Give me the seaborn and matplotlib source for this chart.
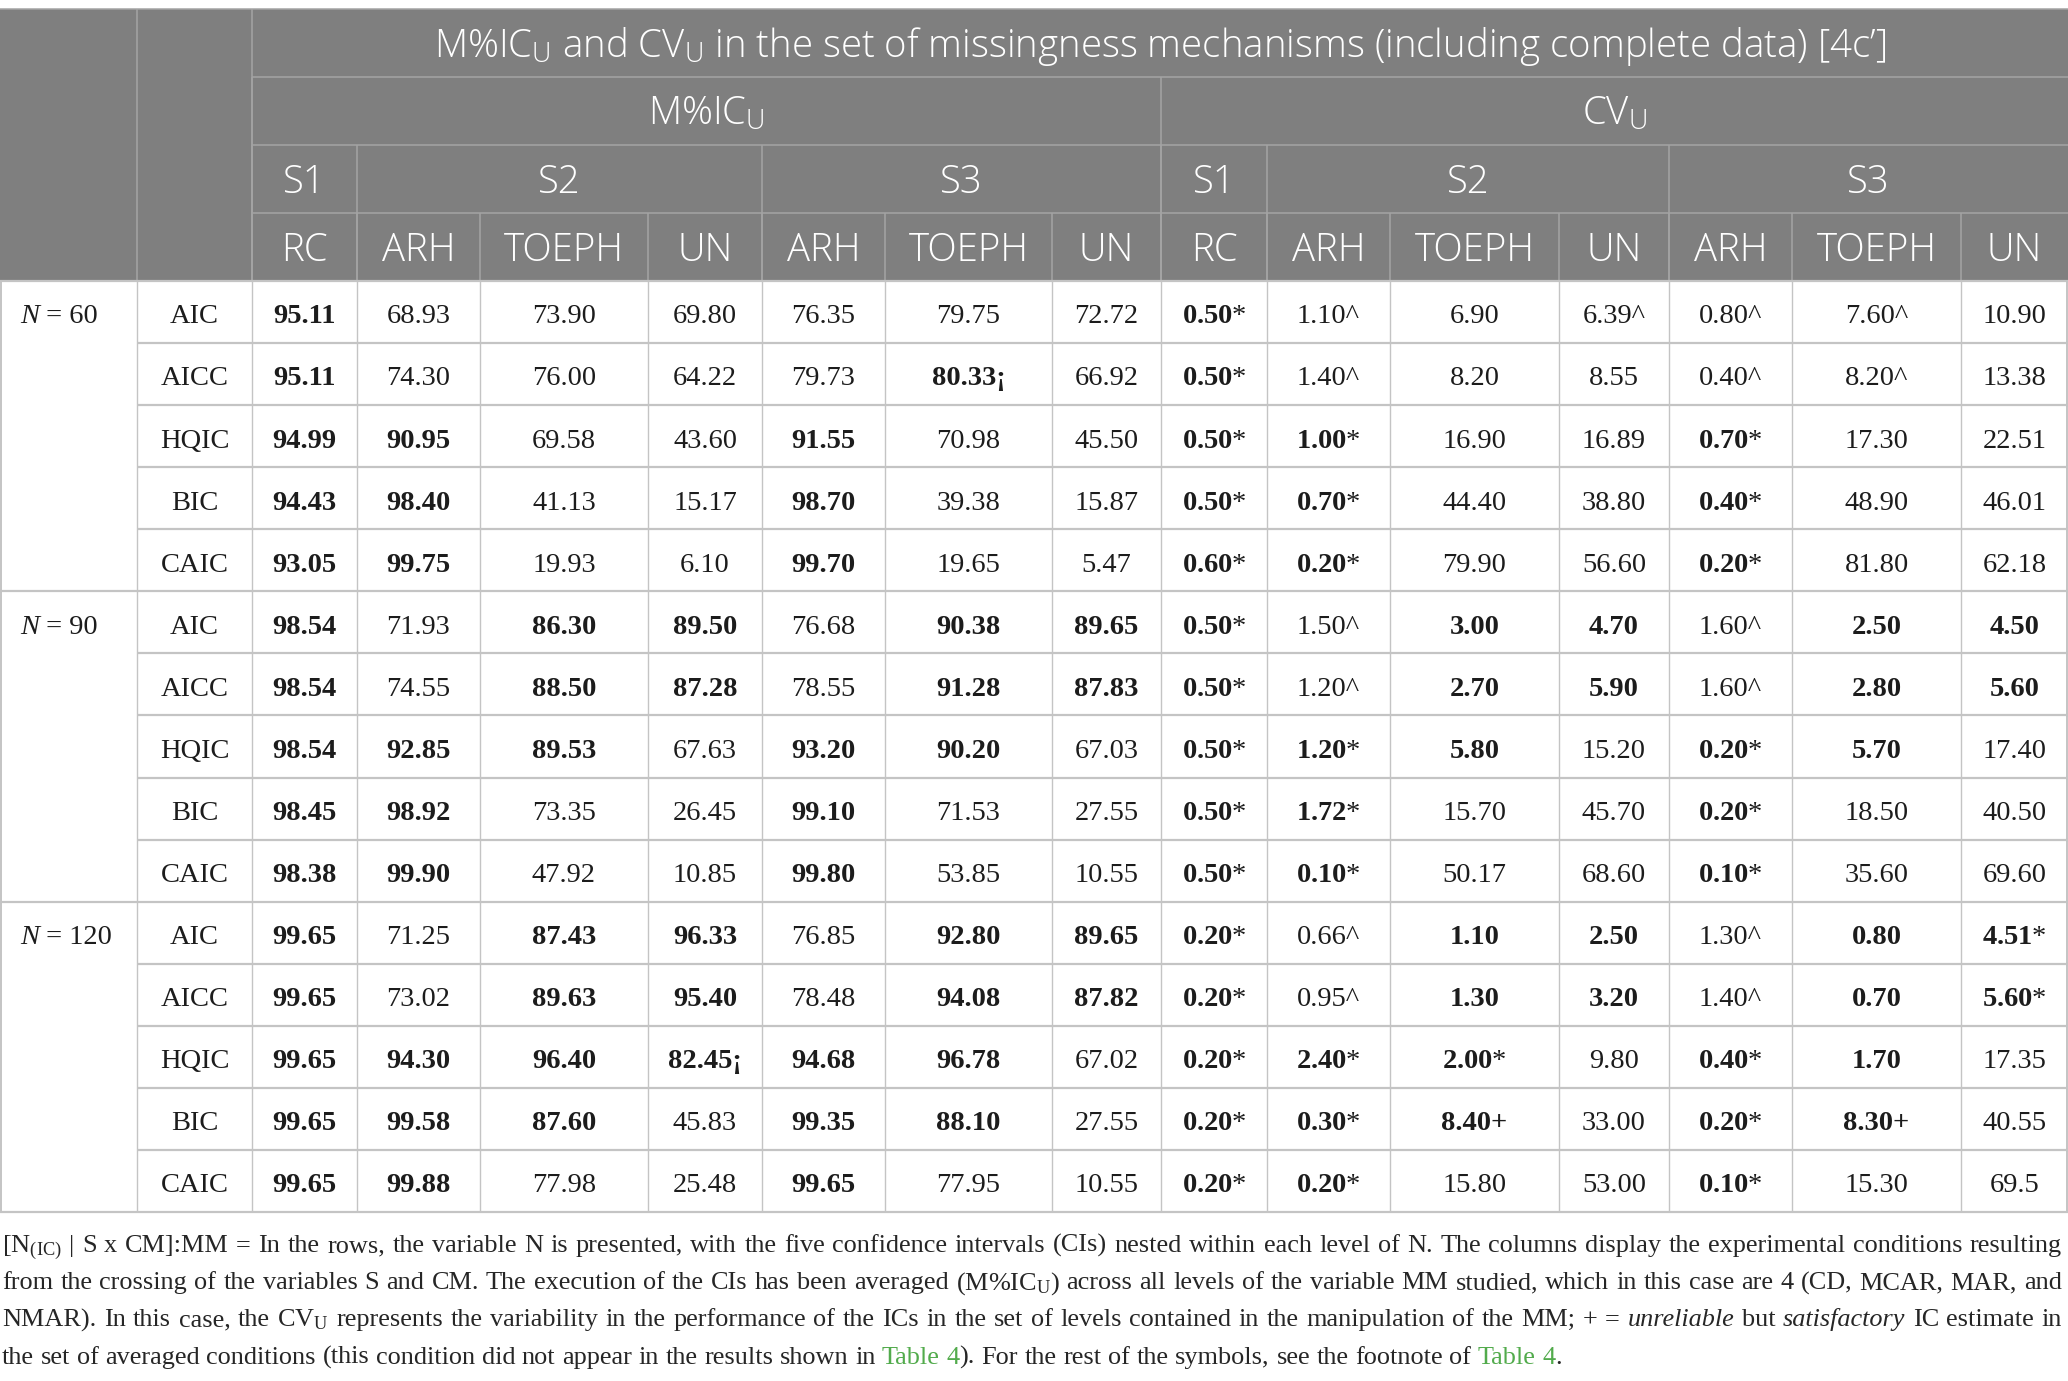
import matplotlib
matplotlib.use("Agg")
import matplotlib.pyplot as plt
import numpy as np
import pandas as pd
import seaborn as sns

# ---- table content ---------------------------------------------------------
SAMPLE_SIZES = ["60", "90", "120"]
IC_NAMES = ["AIC", "AICC", "HQIC", "BIC", "CAIC"]
TITLE = (r"M%IC$_\mathregular{U}$ and CV$_\mathregular{U}$ in the set of missingness "
         "mechanisms (including complete data) [4c\u2019]")
MEASURES = [r"M%IC$_\mathregular{U}$", r"CV$_\mathregular{U}$"]
STRUCTURES = ["S1", "S2", "S3"]
STRUCTURE_SPAN = [1, 3, 3]
COV_MODELS = ["RC", "ARH", "TOEPH", "UN", "ARH", "TOEPH", "UN"]

MIC_N60 = [
    ["95.11", "68.93", "73.90", "69.80", "76.35", "79.75", "72.72"],
    ["95.11", "74.30", "76.00", "64.22", "79.73", "80.33¡", "66.92"],
    ["94.99", "90.95", "69.58", "43.60", "91.55", "70.98", "45.50"],
    ["94.43", "98.40", "41.13", "15.17", "98.70", "39.38", "15.87"],
    ["93.05", "99.75", "19.93", "6.10", "99.70", "19.65", "5.47"],
]
CV_N60 = [
    ["0.50*", "1.10^", "6.90", "6.39^", "0.80^", "7.60^", "10.90"],
    ["0.50*", "1.40^", "8.20", "8.55", "0.40^", "8.20^", "13.38"],
    ["0.50*", "1.00*", "16.90", "16.89", "0.70*", "17.30", "22.51"],
    ["0.50*", "0.70*", "44.40", "38.80", "0.40*", "48.90", "46.01"],
    ["0.60*", "0.20*", "79.90", "56.60", "0.20*", "81.80", "62.18"],
]
MIC_N90 = [
    ["98.54", "71.93", "86.30", "89.50", "76.68", "90.38", "89.65"],
    ["98.54", "74.55", "88.50", "87.28", "78.55", "91.28", "87.83"],
    ["98.54", "92.85", "89.53", "67.63", "93.20", "90.20", "67.03"],
    ["98.45", "98.92", "73.35", "26.45", "99.10", "71.53", "27.55"],
    ["98.38", "99.90", "47.92", "10.85", "99.80", "53.85", "10.55"],
]
CV_N90 = [
    ["0.50*", "1.50^", "3.00", "4.70", "1.60^", "2.50", "4.50"],
    ["0.50*", "1.20^", "2.70", "5.90", "1.60^", "2.80", "5.60"],
    ["0.50*", "1.20*", "5.80", "15.20", "0.20*", "5.70", "17.40"],
    ["0.50*", "1.72*", "15.70", "45.70", "0.20*", "18.50", "40.50"],
    ["0.50*", "0.10*", "50.17", "68.60", "0.10*", "35.60", "69.60"],
]
MIC_N120 = [
    ["99.65", "71.25", "87.43", "96.33", "76.85", "92.80", "89.65"],
    ["99.65", "73.02", "89.63", "95.40", "78.48", "94.08", "87.82"],
    ["99.65", "94.30", "96.40", "82.45¡", "94.68", "96.78", "67.02"],
    ["99.65", "99.58", "87.60", "45.83", "99.35", "88.10", "27.55"],
    ["99.65", "99.88", "77.98", "25.48", "99.65", "77.95", "10.55"],
]
CV_N120 = [
    ["0.20*", "0.66^", "1.10", "2.50", "1.30^", "0.80", "4.51*"],
    ["0.20*", "0.95^", "1.30", "3.20", "1.40^", "0.70", "5.60*"],
    ["0.20*", "2.40*", "2.00*", "9.80", "0.40*", "1.70", "17.35"],
    ["0.20*", "0.30*", "8.40+", "33.00", "0.20*", "8.30+", "40.55"],
    ["0.20*", "0.20*", "15.80", "53.00", "0.10*", "15.30", "69.5"],
]
# 1 = printed in bold in the original table
BOLD_MIC_N60 = ["1000000", "1000010", "1100100", "1100100", "1100100"]
BOLD_CV_N60 = ["1000000", "1000000", "1100100", "1100100", "1100100"]
BOLD_MIC_N90 = ["1011011", "1011011", "1110110", "1100100", "1100100"]
BOLD_CV_N90 = ["1011011", "1011011", "1110110", "1100100", "1100100"]
BOLD_MIC_N120 = ["1011011", "1011011", "1111110", "1110110", "1100100"]
BOLD_CV_N120 = ["1011011", "1011011", "1110110", "1110110", "1100100"]

# footnote, one list of (text, style) per printed line
NOTE_LINES = [
    [(r"[N$_\mathregular{(IC)}$ | S x CM]:MM = In the rows, the variable N is presented, "
      "with the five confidence intervals (CIs) nested within each level of N. The columns "
      "display the experimental conditions resulting", "n")],
    [(r"from the crossing of the variables S and CM. The execution of the CIs has been "
      r"averaged (M%IC$_\mathregular{U}$) across all levels of the variable MM studied, which "
      "in this case are 4 (CD, MCAR, MAR, and", "n")],
    [(r"NMAR). In this case, the CV$_\mathregular{U}$ represents the variability in the "
      "performance of the ICs in the set of levels contained in the manipulation of the "
      "MM; + = ", "n"), ("unreliable", "i"), (" but ", "n"), ("satisfactory", "i"),
     (" IC estimate in", "n")],
    [("the set of averaged conditions (this condition did not appear in the results "
      "shown in ", "n"), ("Table 4", "g"), ("). For the rest of the symbols, see the "
      "footnote of ", "n"), ("Table 4", "g"), (".", "n")],
]

# ---- layout and style --------------------------------------------------------
FIG_W, FIG_H, DPI = 2068, 1381, 100
COL_W = [137, 115, 105, 123, 168, 114, 123, 167, 109, 106, 123, 169, 110, 123, 169, 107]
TOP = 9
HEAD_H = 68
ROW_H = 62.07
NOTE_GAP = 40
NOTE_LEAD = 37.2

HEAD_BG = "#7f7f7f"
HEAD_LINE = "#a4a4a4"
GRID = "#c4c4c4"
TEXT = "#1c1c1c"
NOTE = "#262626"
LINK = "#52ab4c"

BODY_FS = 20.5
NOTE_FS = 18.0
HEAD_FONT = "Open Sans"
SERIF = "Liberation Serif"


def main():
    # assemble the body of the table
    rows = []
    groups = zip(SAMPLE_SIZES,
                 [MIC_N60, MIC_N90, MIC_N120], [CV_N60, CV_N90, CV_N120],
                 [BOLD_MIC_N60, BOLD_MIC_N90, BOLD_MIC_N120],
                 [BOLD_CV_N60, BOLD_CV_N90, BOLD_CV_N120])
    for n, mic, cv, bmic, bcv in groups:
        for ic, r_mic, r_cv, b_mic, b_cv in zip(IC_NAMES, mic, cv, bmic, bcv):
            rows.append({"N": n, "IC": ic, "cells": r_mic + r_cv,
                         "bold": [c == "1" for c in b_mic + b_cv]})
    table = pd.DataFrame(rows)

    sns.set_theme(style="white")
    plt.rcParams.update({
        "font.family": [SERIF, "DejaVu Serif"],
        "mathtext.fontset": "custom",
        "mathtext.rm": SERIF,
        "mathtext.it": SERIF + ":italic",
        "mathtext.bf": SERIF + ":bold",
    })

    width = sum(COL_W)
    x_edges = np.concatenate([[0], np.cumsum(COL_W)])
    head_edges = TOP + HEAD_H * np.arange(5)
    body_top = head_edges[-1]
    row_edges = body_top + ROW_H * np.arange(len(table) + 1)

    fig = plt.figure(figsize=(FIG_W / DPI, FIG_H / DPI), dpi=DPI)
    ax = fig.add_axes([0, 0, 1, 1])
    ax.set_xlim(0, width)
    ax.set_ylim(FIG_H, 0)
    ax.set_axis_off()
    renderer = fig.canvas.get_renderer()
    px = width / fig.bbox.width

    def put(x, yc, s, size, cap, ha="center", **kw):
        # place text so that its capitals are centred on yc
        return ax.text(x, yc + cap * size * DPI / 72, s, size=size, ha=ha,
                       va="baseline", **kw)

    def text_w(s, **kw):
        t = ax.text(0, 0, s, **kw)
        w = t.get_window_extent(renderer).width * px
        t.remove()
        return w

    # ---- header -------------------------------------------------------------
    ax.add_patch(plt.Rectangle((0, TOP), width, body_top - TOP, color=HEAD_BG, lw=0))
    head_kw = dict(family=HEAD_FONT, color="white", weight="light")
    title_fs = 24 * (x_edges[-1] - x_edges[2]) * 0.80 / text_w(TITLE, size=24, **head_kw)
    head_fs = title_fs
    hlw = 1.1
    ax.hlines(TOP, 0, width, color=HEAD_LINE, lw=hlw)
    ax.vlines(x_edges[1:3], TOP, body_top, color=HEAD_LINE, lw=hlw)
    ax.hlines(head_edges[1:4], x_edges[2], width, color=HEAD_LINE, lw=hlw)

    yc = (head_edges[:-1] + head_edges[1:]) / 2
    put((x_edges[2] + width) / 2, yc[0], TITLE, title_fs, 0.357, **head_kw)

    n_sub = len(COV_MODELS)
    for m, measure in enumerate(MEASURES):
        c0 = 2 + m * n_sub
        ax.vlines(x_edges[c0], head_edges[1], body_top, color=HEAD_LINE, lw=hlw)
        put((x_edges[c0] + x_edges[c0 + n_sub]) / 2, yc[1], measure, head_fs, 0.357, **head_kw)
        start = c0
        for s_name, span in zip(STRUCTURES, STRUCTURE_SPAN):
            ax.vlines(x_edges[start], head_edges[2], body_top, color=HEAD_LINE, lw=hlw)
            put((x_edges[start] + x_edges[start + span]) / 2, yc[2], s_name, head_fs, 0.357,
                **head_kw)
            start += span
        for k, cm in enumerate(COV_MODELS):
            c = c0 + k
            ax.vlines(x_edges[c], head_edges[3], body_top, color=HEAD_LINE, lw=hlw)
            put((x_edges[c] + x_edges[c + 1]) / 2, yc[3], cm, head_fs, 0.357, **head_kw)

    # ---- body grid ------------------------------------------------------------
    bottom = row_edges[-1]
    ax.vlines(x_edges[1:-1], body_top, bottom, color=GRID, lw=1.0)
    ax.vlines([1, width - 1], body_top, bottom, color=GRID, lw=1.4)
    for i, y in enumerate(row_edges):
        full = i % len(IC_NAMES) == 0
        ax.hlines(y, 0 if full else x_edges[1], width, color=GRID, lw=1.6)

    # ---- body text ------------------------------------------------------------
    cap = 0.40
    for i, row in table.iterrows():
        y = (row_edges[i] + row_edges[i + 1]) / 2
        if i % len(IC_NAMES) == 0:
            x = x_edges[0] + 20
            t = put(x, y, "N", BODY_FS, cap, ha="left", color=TEXT, style="italic")
            w = t.get_window_extent(renderer).width * px
            put(x + w, y, " = " + row["N"], BODY_FS, cap, ha="left", color=TEXT)
        put((x_edges[1] + x_edges[2]) / 2, y, row["IC"], BODY_FS, cap, color=TEXT)
        for j, (val, bold) in enumerate(zip(row["cells"], row["bold"])):
            c = 2 + j
            xc = (x_edges[c] + x_edges[c + 1]) / 2
            if bold and val.endswith("*"):
                # bold figure, light asterisk as in the journal layout
                put(xc, y, r"$\mathbf{" + val[:-1] + "}$*", BODY_FS, cap, color=TEXT)
            else:
                put(xc, y, val, BODY_FS, cap, color=TEXT,
                    weight="bold" if bold else "normal")

    # ---- footnote (justified like the journal layout) -------------------------
    styles = {"n": dict(color=NOTE), "i": dict(color=NOTE, style="italic"),
              "g": dict(color=LINK)}
    left, right = 2, width - 6

    def split_words(segments):
        words = [[]]
        for text, st in segments:
            for k, part in enumerate(text.split(" ")):
                if k > 0:
                    words.append([])
                if part:
                    words[-1].append((part, st))
        return [w for w in words if w]

    def natural(words, fs):
        sp = text_w("n n", size=fs) - text_w("nn", size=fs)
        ws = [[text_w(p, size=fs, **styles[st]) for p, st in w] for w in words]
        return ws, sp, sum(sum(w) for w in ws) + sp * (len(words) - 1)

    # fit the font so the first full line sets with plain word spaces
    first = split_words(NOTE_LINES[0])
    _, _, nat = natural(first, NOTE_FS)
    note_fs = NOTE_FS * (right - left) * 0.985 / nat

    for ln, segments in enumerate(NOTE_LINES):
        words = split_words(segments)
        widths, space, _ = natural(words, note_fs)
        total = sum(sum(w) for w in widths)
        last = ln == len(NOTE_LINES) - 1
        gap = space if last else (right - left - total) / (len(words) - 1)
        base = bottom + NOTE_GAP + ln * NOTE_LEAD
        x = left
        for w, ws in zip(words, widths):
            for (p, st), pw in zip(w, ws):
                ax.text(x, base, p, size=note_fs, ha="left", va="baseline", **styles[st])
                x += pw
            x += gap

    fig.savefig("out.png", dpi=DPI, facecolor="white")


if __name__ == '__main__':
    main()
